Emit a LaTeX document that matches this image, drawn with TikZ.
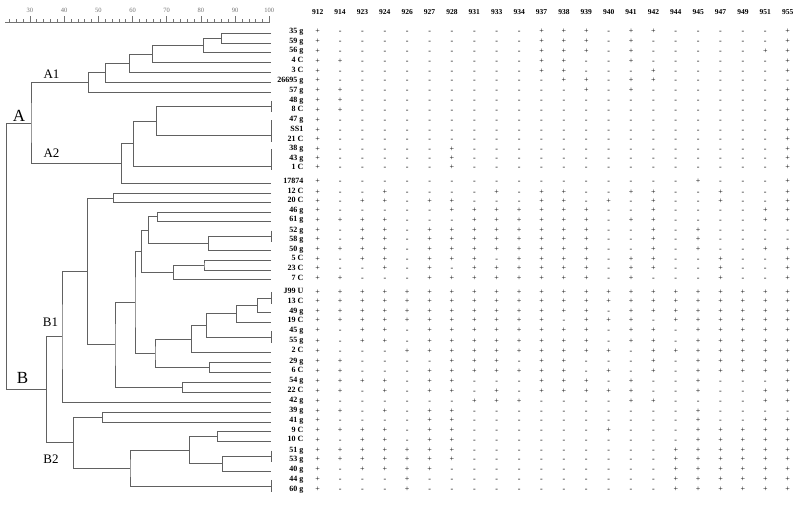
\documentclass[tikz,border=0pt]{standalone}
\usepackage{fontspec}
\setmainfont{Liberation Serif}
\usetikzlibrary{calc}
\tikzset{
  dline/.style={draw=black!62, line width=0.55pt},
  scaleline/.style={draw=black!55, line width=0.5pt},
  rowlab/.style={anchor=east, font=\bfseries\fontsize{8}{8}\selectfont, inner sep=0pt, text height=5.4pt, text depth=1.4pt},
  colhead/.style={font=\bfseries\fontsize{7.5}{7.5}\selectfont, inner sep=0pt, text height=5.2pt, text depth=0pt},
  cellval/.style={font=\fontsize{8}{8}\selectfont, inner sep=0pt, text height=4.6pt, text depth=0pt},
  clusterlab/.style={font=\fontsize{13}{13}\selectfont, inner sep=0pt},
  biglab/.style={font=\fontsize{17}{17}\selectfont, inner sep=0pt},
  scalelab/.style={font=\fontsize{6.5}{6.5}\selectfont, text=black!55, inner sep=0pt},
}
% merge two children #3,#4 into node #1 at x=#2
\newcommand\mergenode[4]{%
  \coordinate (tmp#1) at ($(#3)!0.5!(#4)$);
  \coordinate (#1) at (#2,0 |- tmp#1);
  \draw[dline] (#3) -| (#1) |- (#4);}
% leaves joined at 100 %
\newcommand\groupnode[3]{%
  \coordinate (#1) at ($(#2)!0.5!(#3)$);
  \draw[dline, shorten <=-1pt, shorten >=-1pt] (#2) -- (#3);}
\newcommand\groupnodeat[4]{%
  \coordinate (#1) at (271,#4);
  \draw[dline, shorten <=-1pt, shorten >=-1pt] (#2) -- (#3);}
% table values
\newcommand\putvals[3]{%
  \def\colidx{0}\def\rowyy{#2}\def\rowid{#1}%
  \expandafter\parsevals#3\relax}
\def\parsevals#1{\ifx#1\relax\else
  \pgfmathtruncatemacro\colidx{\colidx+1}%
  \node[cellval] (v\rowid-\colidx) at ({317.7+22.38*(\colidx-1)},\rowyy) {#1};%
  \expandafter\parsevals\fi}
\begin{document}
\begin{tikzpicture}[x=1pt,y=-1pt]
\path[fill=white] (0,0) rectangle (800,513);
\useasboundingbox (0,0) rectangle (800,513);

% scale
\coordinate (s0) at (5,22.5);
\coordinate (s1) at (270,22.5);
\draw[scaleline] (s0) -- (s1);
\foreach \v in {24,26,...,100} {
  \pgfmathsetmacro\sx{269.3-(100-\v)*3.42}
  \draw[scaleline] (\sx,22.5) -- (\sx,19);
}
\foreach \v in {30,40,...,100} {
  \pgfmathsetmacro\sx{269.3-(100-\v)*3.42}
  \draw[scaleline] (\sx,22.5) -- (\sx,16.5);
  \node[scalelab] (sc\v) at (\sx,10) {\v};
}

% header
\foreach \h [count=\ci] in {912,914,923,924,926,927,928,931,933,934,937,938,939,940,941,942,944,945,947,949,951,955}
  \node[colhead] (h\ci) at ({317.7+22.38*(\ci-1)},11.7) {\h};

% rows
\foreach \yy/\lab/\vals [count=\ri] in {
31.7/35 g/+---------+++-++-----+,
41.7/59 g/+---------+++-+------+,
51/56 g/+---------+++-+-----++,
61/4 C/++--------++--+------+,
71/3 C/+---------++---+-----+,
80.7/26695 g/+----------++-++------,
90.7/57 g/++----------+-+------+,
100.3/48 g/++-------------------+,
110/8 C/++-------------------+,
120/47 g/+--------------------+,
130/SS1/+--------------------+,
139.3/21 C/+--------------------+,
149/38 g/+-----+--------------+,
158.5/43 g/+-----+--------------+,
167.7/1 C/+-----+--------------+,
181.7/17874/+----------------+---+,
191.7/12 C/+--+----+-++--++--+--+,
201/20 C/+-++-++---++-+-+--+--+,
210.5/46 g/+-----+++++++--+----++,
220/61 g/++++---++++++-++----++,
230/52 g/+-++-++++++++--+-+----,
239.3/58 g/+-++-++++++++--+-+----,
249/50 g/++++-++++++++--+-+--++,
258.7/5 C/+-++-+++-++++-++--+--+,
268.3/23 C/+--+-+-++++++-++--+--+,
278/7 C/++---++++++++-+---+--+,
291.7/J99 U/++++++++++++++++++++++,
301.3/13 C/++++++++++++++++++++++,
311/49 g/+++++++++++++-++++++++,
320.5/19 C/+++++++++++-+++-++++++,
330.5/45 g/+-++-++++++++-++-+++++,
340.7/55 g/+-++-++++++++-++-+++++,
350.7/2 C/+---++++++++++-+++++++,
361/29 g/++----+++-++---+-+++++,
370.7/6 C/++---+++++++-+-+-+++++,
380.8/54 g/++++-++---+++-+--+---+,
390.7/22 C/++-+-++-+-+++++--+--++,
400.7/42 g/+------+++----++----++,
410.7/39 g/++-+-++----------+----,
420.3/41 g/+----++----------+--++,
430/9 C/++++-++------+---+++++,
439.7/10 C/+-++-++----------+++++,
450/51 g/+++++++---------++++++,
459.5/53 g/+++++++---------++++++,
469.5/40 g/+-++++----------++++++,
479.3/44 g/+---+-----------++++++,
489.3/60 g/+---+-----------++++++%
} {
  \node[rowlab] (lab\ri) at (303.5,\yy) {\lab};
  \coordinate (L\ri) at (271,\yy+1.5);
  \putvals{\ri}{\yy}{\vals}
}

% ---- dendrogram: cluster A1
\mergenode{n1}{221.7}{L1}{L2}
\mergenode{n2}{203.3}{n1}{L3}
\mergenode{n3}{152.3}{n2}{L4}
\mergenode{n4}{129.3}{n3}{L5}
\mergenode{n5}{105.3}{n4}{L6}
\mergenode{nA1}{88.3}{n5}{L7}
% cluster A2
\groupnode{g1}{L8}{L9}
\groupnodeat{g2}{L10}{L12}{135.5}
\groupnodeat{g3}{L13}{L15}{166}
\mergenode{m1}{156.7}{g1}{g2}
\mergenode{m2}{133.3}{m1}{g3}
\mergenode{nA2}{121.7}{m2}{L16}
\mergenode{nA}{31}{nA1}{nA2}
% cluster B1
\mergenode{b1}{113.3}{L17}{L18}
\mergenode{b2}{157.3}{L19}{L20}
\groupnode{g4}{L21}{L22}
\mergenode{b3}{208.3}{g4}{L23}
\mergenode{b4}{148.3}{b2}{b3}
\mergenode{b5}{204}{L24}{L25}
\mergenode{b6}{173.3}{b5}{L26}
\mergenode{b7}{141.7}{b4}{b6}
\groupnode{g5}{L27}{L28}
\mergenode{b8}{257.3}{g5}{L29}
\mergenode{b9}{236.7}{b8}{L30}
\groupnode{g6}{L31}{L32}
\mergenode{b10}{206.7}{b9}{g6}
\mergenode{b11}{191.7}{b10}{L33}
\mergenode{b12}{209.3}{L34}{L35}
\mergenode{b13}{155}{b11}{b12}
\mergenode{b14}{135}{b7}{b13}
\mergenode{b15}{182.7}{L36}{L37}
\mergenode{b16}{115}{b14}{b15}
\mergenode{b17}{87.7}{b1}{b16}
\mergenode{nB1}{62}{b17}{L38}
% cluster B2
\mergenode{c1}{102.7}{L39}{L40}
\mergenode{c2}{217.3}{L41}{L42}
\groupnode{g7}{L43}{L44}
\mergenode{c3}{222.3}{g7}{L45}
\mergenode{c4}{189.3}{c2}{c3}
\groupnode{g8}{L46}{L47}
\mergenode{c5}{130}{c4}{g8}
\mergenode{nB2}{73.3}{c1}{c5}
\mergenode{nB}{46.7}{nB1}{nB2}
\mergenode{root}{6.7}{nA}{nB}

% cluster labels
\node[biglab] (labA) at (19,116) {A};
\node[clusterlab] (labA1) at (51.5,74.5) {A1};
\node[clusterlab] (labA2) at (51.5,153) {A2};
\node[biglab] (labB) at (22.5,377.5) {B};
\node[clusterlab] (labB1) at (50.5,322) {B1};
\node[clusterlab] (labB2) at (51,459) {B2};
\end{tikzpicture}
\end{document}
